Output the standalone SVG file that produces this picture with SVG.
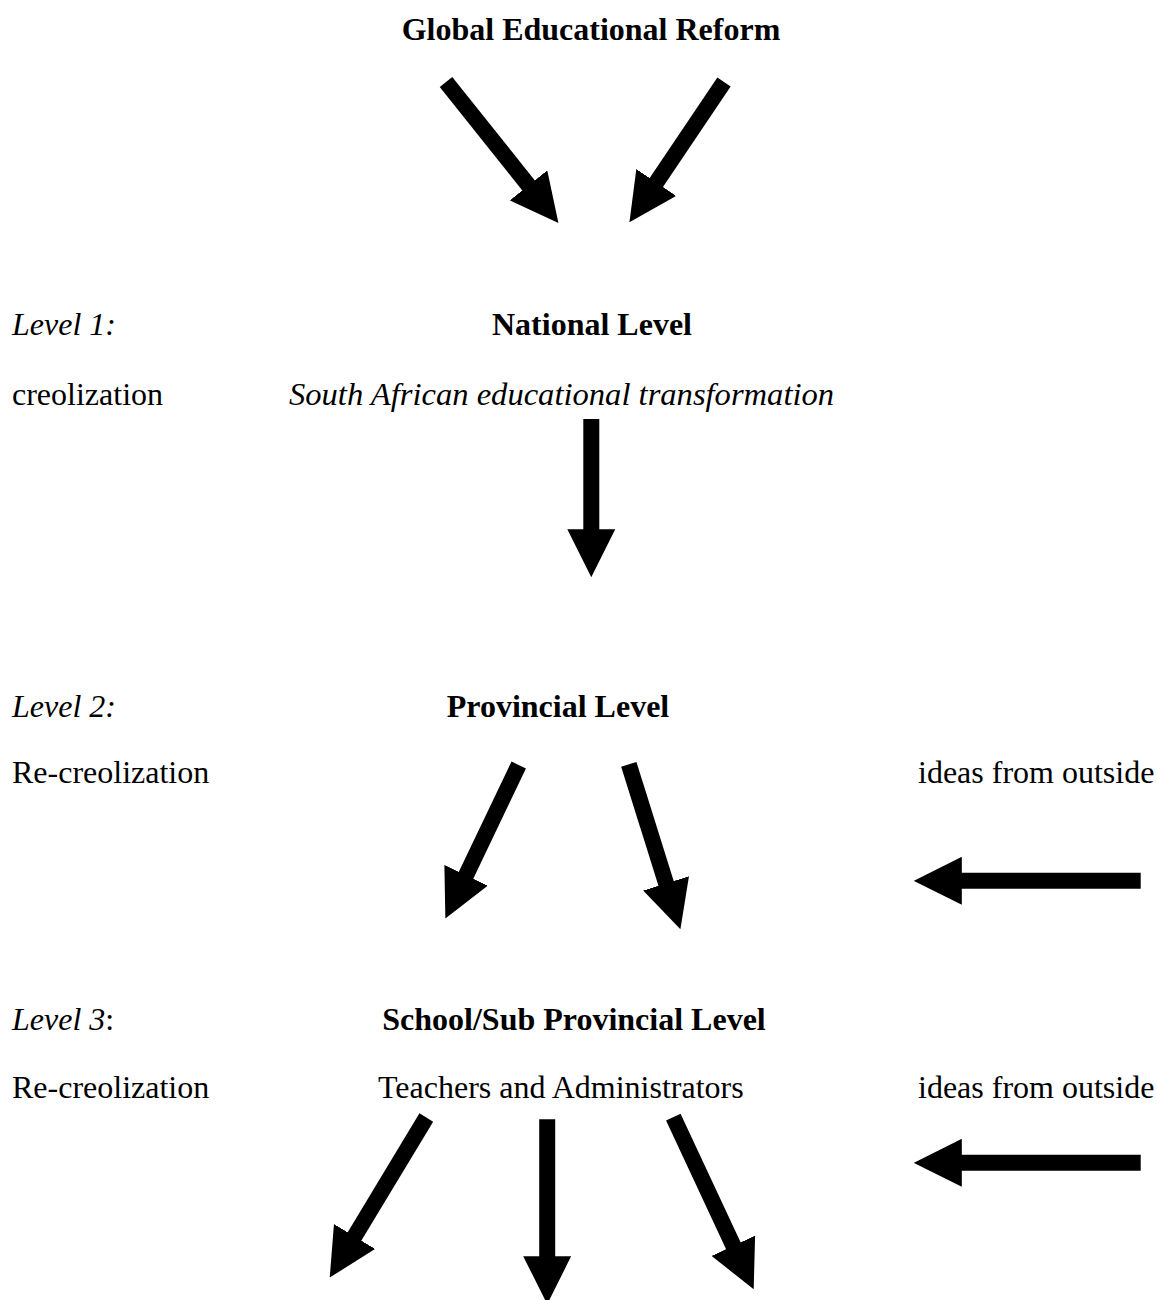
<svg xmlns="http://www.w3.org/2000/svg" width="1157" height="1300" viewBox="0 0 1157 1300">
<style>
text { font-family: "Liberation Serif", "Times New Roman", serif; font-size: 32px; fill: #000; }
.b { font-weight: bold; }
.i { font-style: italic; }
.m { text-anchor: middle; }
.arr { stroke: #000; stroke-width: 16; fill: none; stroke-linecap: butt; marker-end: url(#head); }
</style>
<defs>
<marker id="head" viewBox="0 0 3 3" markerWidth="3" markerHeight="3" refX="0.05" refY="1.5" orient="auto" markerUnits="strokeWidth">
<path d="M0,0 L3,1.5 L0,3 Z" fill="#000"/>
</marker>
</defs>
<rect width="1157" height="1300" fill="#fff"/>
<g id="global"><text class="b m" x="591" y="40">Global Educational Reform</text></g>
<g id="level1">
<text class="i" x="12" y="335">Level 1:</text>
<text x="12" y="405">creolization</text>
</g>
<g id="national">
<text class="b m" x="592" y="335">National Level</text>
<text class="i" x="289" y="405" style="font-size:32.6px">South African educational transformation</text>
</g>
<g id="level2">
<text class="i" x="12" y="717">Level 2:</text>
<text x="12" y="783">Re-creolization</text>
</g>
<g id="provincial"><text class="b m" x="558" y="717">Provincial Level</text></g>
<g id="outside1"><text x="918" y="783">ideas from outside</text></g>
<g id="level3">
<text x="12" y="1030"><tspan class="i">Level 3</tspan>:</text>
<text x="12" y="1098">Re-creolization</text>
</g>
<g id="school">
<text class="b m" x="574" y="1030">School/Sub Provincial Level</text>
<text x="378" y="1098">Teachers and Administrators</text>
</g>
<g id="outside2"><text x="918" y="1098">ideas from outside</text></g>
<g id="connectors">
<line class="arr" x1="446" y1="82" x2="529" y2="186"/>
<line class="arr" x1="724" y1="82" x2="655.8" y2="183.2"/>
<line class="arr" x1="591.3" y1="419" x2="591.3" y2="530"/>
<line class="arr" x1="518.7" y1="765" x2="465.7" y2="876"/>
<line class="arr" x1="628.8" y1="764.3" x2="666.3" y2="884.2"/>
<line class="arr" x1="1140.7" y1="880.8" x2="961" y2="880.8"/>
<line class="arr" x1="1140.7" y1="1162.8" x2="961" y2="1162.8"/>
<line class="arr" x1="426.3" y1="1117.5" x2="354.1" y2="1237.2"/>
<line class="arr" x1="547.2" y1="1119.3" x2="547.2" y2="1257"/>
<line class="arr" x1="673.3" y1="1117.2" x2="733.7" y2="1246.5"/>
</g>
</svg>
